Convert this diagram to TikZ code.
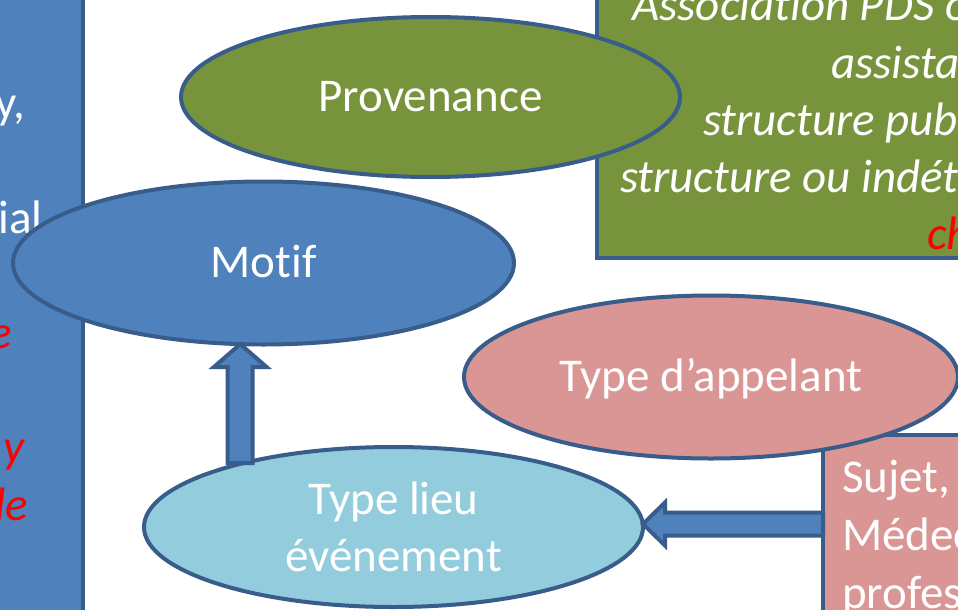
\documentclass[tikz,border=0pt]{standalone}
\usepackage{fontspec}
\setmainfont[Ligatures=NoCommon]{Carlito}
\usetikzlibrary{shapes.geometric,calc}
\definecolor{bordc}{HTML}{385D8A}
\definecolor{blueF}{HTML}{4F81BD}
\definecolor{greenF}{HTML}{77933C}
\definecolor{pinkF}{HTML}{D99694}
\definecolor{lblueF}{HTML}{93CDDD}
\definecolor{redT}{HTML}{FF0000}
\tikzset{
  shapeline/.style={draw=bordc, line width=4pt, outer sep=0pt, inner sep=0pt},
  rectbox/.style={shapeline, rectangle},
  ellbox/.style={shapeline, ellipse, text=white, font=\fontsize{47}{57}\selectfont},
  onel/.style={text height=35pt, text depth=7pt},
  blockarrow/.style={draw=bordc, fill=blueF, line width=4pt, line join=miter},
  wtext/.style={inner sep=0pt, text=white, font=\fontsize{47}{57}\selectfont},
  witext/.style={inner sep=0pt, text=white, font=\fontsize{47}{57}\selectfont\itshape},
  rtext/.style={inner sep=0pt, text=redT, font=\fontsize{47}{57}\selectfont\itshape},
}
\begin{document}
\begin{tikzpicture}[x=1pt,y=-1pt]
\useasboundingbox (0,0) rectangle (958,610);
\clip (0,0) rectangle (958,610);
\fill[white] (0,0) rectangle (958,610);
% rectangles
\node[rectbox, fill=blueF, anchor=north east, minimum width=300pt, minimum height=720pt] (leftbox) at (83,-50) {};
\node[rectbox, fill=greenF, anchor=south west, minimum width=600pt, minimum height=400pt] (greenbox) at (597,258) {};
\node[rectbox, fill=pinkF, anchor=north west, minimum width=400pt, minimum height=400pt] (pinkbox) at (823,435) {};
% texts in the rectangles
\node[wtext, anchor=base east] (l1) at (25,118) {y,};
\node[wtext, anchor=base east] (l2) at (43,233) {ial};
\node[rtext, anchor=base east] (l3) at (12,348) {e};
\node[rtext, anchor=base east] (l4) at (25,462) {y};
\node[rtext, anchor=base east] (l5) at (28,520) {de};
\node[witext, anchor=base west] (g1) at (632,21) {Association PDS o};
\node[witext, anchor=base west] (g2) at (831,78) {assista};
\node[witext, anchor=base west] (g3) at (703,135) {structure pub};
\node[witext, anchor=base west] (g4) at (620,192) {structure ou indét};
\node[rtext, anchor=base west] (g5) at (927,249) {ch};
\node[wtext, anchor=base west] (p1) at (842,492) {Sujet,};
\node[wtext, anchor=base west] (p2) at (842,550) {Médec};
\node[wtext, anchor=base west] (p3) at (842,608) {profes};
% ellipses
\node[ellbox, onel, fill=greenF, minimum width=499pt, minimum height=160pt] (prov) at (430.5,97) {Provenance};
\node[ellbox, onel, fill=blueF, minimum width=501pt, minimum height=163pt] (motif) at (263.5,263) {Motif};
\node[ellbox, onel, fill=pinkF, minimum width=494pt, minimum height=163pt] (appel) at (711,377) {Type d’appelant};
\node[ellbox, fill=lblueF, align=center, minimum width=499pt, minimum height=160pt] (lieu) at (393.5,527) {Type lieu\\événement};
% block arrows
\draw[blockarrow] let \p1=(motif.254), \p2=(lieu.157) in
  (\x1,\y1) -- (\x1+26.5pt,\y1-23pt) -- (\x1+12.5pt,\y1-23pt) -- (\x1+12.5pt,\y2)
  -- (\x1-12.5pt,\y2) -- (\x1-12.5pt,\y1-23pt) -- (\x1-26.5pt,\y1-23pt) -- cycle;
\draw[blockarrow] let \p1=($(lieu.east)+(0,-3)$), \p2=(pinkbox.west) in
  (\x1,\y1) -- (\x1+22pt,\y1+21.5pt) -- (\x1+22pt,\y1+11.5pt) -- (\x2,\y1+11.5pt)
  -- (\x2,\y1-11.5pt) -- (\x1+22pt,\y1-11.5pt) -- (\x1+22pt,\y1-21.5pt) -- cycle;
\end{tikzpicture}
\end{document}
